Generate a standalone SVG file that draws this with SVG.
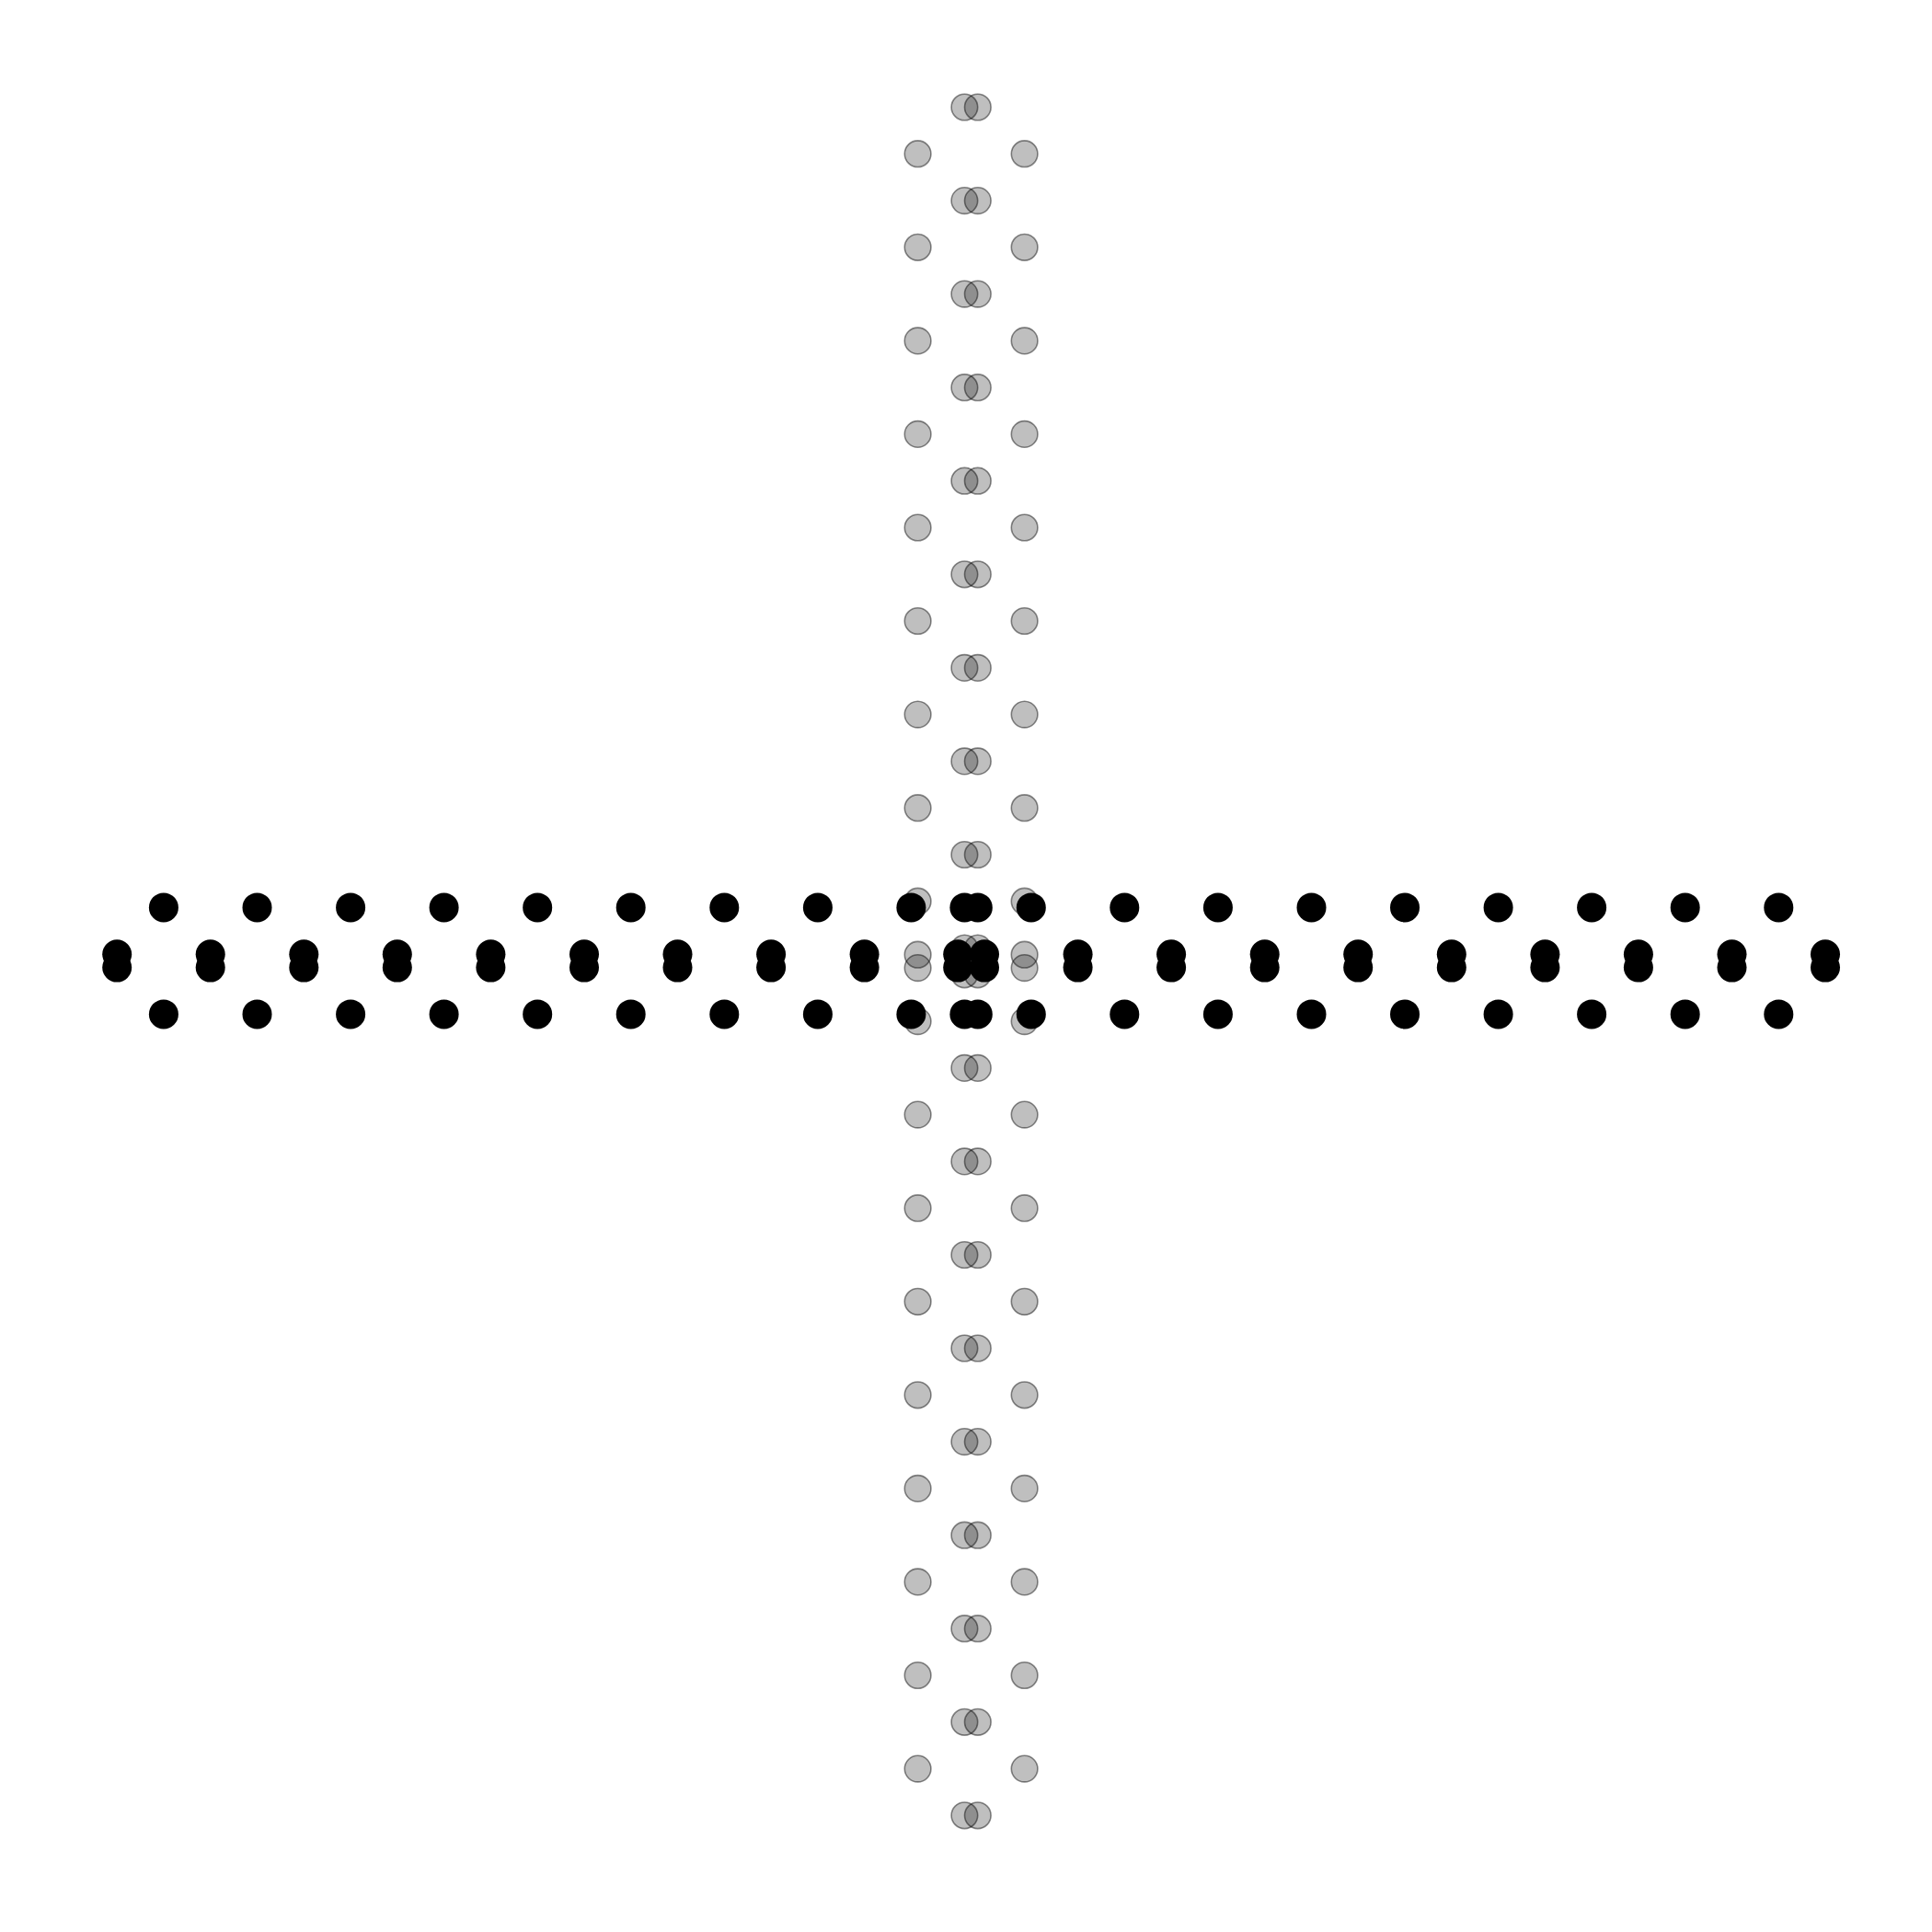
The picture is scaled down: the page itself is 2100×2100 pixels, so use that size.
<svg xmlns="http://www.w3.org/2000/svg" width="2100" height="2100" viewBox="0 0 2100 2100">
<style>
.g{fill:#000;fill-opacity:0.25;stroke:#000;stroke-opacity:0.45;stroke-width:1.6}
.b{fill:#000}
</style>
<rect width="2100" height="2100" fill="#fff"/>
<g id="vertical-strand">
<g id="v-pairs">
<circle class="g" cx="1048.4" cy="116.5" r="14.3"/><circle class="g" cx="1062.8" cy="116.5" r="14.3"/>
<circle class="g" cx="1048.4" cy="218.1" r="14.3"/><circle class="g" cx="1062.8" cy="218.1" r="14.3"/>
<circle class="g" cx="1048.4" cy="319.6" r="14.3"/><circle class="g" cx="1062.8" cy="319.6" r="14.3"/>
<circle class="g" cx="1048.4" cy="421.2" r="14.3"/><circle class="g" cx="1062.8" cy="421.2" r="14.3"/>
<circle class="g" cx="1048.4" cy="522.7" r="14.3"/><circle class="g" cx="1062.8" cy="522.7" r="14.3"/>
<circle class="g" cx="1048.4" cy="624.3" r="14.3"/><circle class="g" cx="1062.8" cy="624.3" r="14.3"/>
<circle class="g" cx="1048.4" cy="725.9" r="14.3"/><circle class="g" cx="1062.8" cy="725.9" r="14.3"/>
<circle class="g" cx="1048.4" cy="827.4" r="14.3"/><circle class="g" cx="1062.8" cy="827.4" r="14.3"/>
<circle class="g" cx="1048.4" cy="929.0" r="14.3"/><circle class="g" cx="1062.8" cy="929.0" r="14.3"/>
<circle class="g" cx="1048.4" cy="1030.5" r="14.3"/><circle class="g" cx="1062.8" cy="1030.5" r="14.3"/>
<circle class="g" cx="1048.4" cy="1059.3" r="14.3"/><circle class="g" cx="1062.8" cy="1059.3" r="14.3"/>
<circle class="g" cx="1048.4" cy="1160.9" r="14.3"/><circle class="g" cx="1062.8" cy="1160.9" r="14.3"/>
<circle class="g" cx="1048.4" cy="1262.4" r="14.3"/><circle class="g" cx="1062.8" cy="1262.4" r="14.3"/>
<circle class="g" cx="1048.4" cy="1364.0" r="14.3"/><circle class="g" cx="1062.8" cy="1364.0" r="14.3"/>
<circle class="g" cx="1048.4" cy="1465.5" r="14.3"/><circle class="g" cx="1062.8" cy="1465.5" r="14.3"/>
<circle class="g" cx="1048.4" cy="1567.1" r="14.3"/><circle class="g" cx="1062.8" cy="1567.1" r="14.3"/>
<circle class="g" cx="1048.4" cy="1668.7" r="14.3"/><circle class="g" cx="1062.8" cy="1668.7" r="14.3"/>
<circle class="g" cx="1048.4" cy="1770.2" r="14.3"/><circle class="g" cx="1062.8" cy="1770.2" r="14.3"/>
<circle class="g" cx="1048.4" cy="1871.8" r="14.3"/><circle class="g" cx="1062.8" cy="1871.8" r="14.3"/>
<circle class="g" cx="1048.4" cy="1973.3" r="14.3"/><circle class="g" cx="1062.8" cy="1973.3" r="14.3"/>
</g>
<g id="v-sides">
<circle class="g" cx="997.6" cy="167.2" r="14.3"/><circle class="g" cx="1113.6" cy="167.2" r="14.3"/>
<circle class="g" cx="997.6" cy="268.8" r="14.3"/><circle class="g" cx="1113.6" cy="268.8" r="14.3"/>
<circle class="g" cx="997.6" cy="370.4" r="14.3"/><circle class="g" cx="1113.6" cy="370.4" r="14.3"/>
<circle class="g" cx="997.6" cy="471.9" r="14.3"/><circle class="g" cx="1113.6" cy="471.9" r="14.3"/>
<circle class="g" cx="997.6" cy="573.5" r="14.3"/><circle class="g" cx="1113.6" cy="573.5" r="14.3"/>
<circle class="g" cx="997.6" cy="675.0" r="14.3"/><circle class="g" cx="1113.6" cy="675.0" r="14.3"/>
<circle class="g" cx="997.6" cy="776.6" r="14.3"/><circle class="g" cx="1113.6" cy="776.6" r="14.3"/>
<circle class="g" cx="997.6" cy="878.2" r="14.3"/><circle class="g" cx="1113.6" cy="878.2" r="14.3"/>
<circle class="g" cx="997.6" cy="979.7" r="14.3"/><circle class="g" cx="1113.6" cy="979.7" r="14.3"/>
<circle class="g" cx="997.6" cy="1037.7" r="14.3"/><circle class="g" cx="1113.6" cy="1037.7" r="14.3"/>
<circle class="g" cx="997.6" cy="1052.1" r="14.3"/><circle class="g" cx="1113.6" cy="1052.1" r="14.3"/>
<circle class="g" cx="997.6" cy="1110.1" r="14.3"/><circle class="g" cx="1113.6" cy="1110.1" r="14.3"/>
<circle class="g" cx="997.6" cy="1211.6" r="14.3"/><circle class="g" cx="1113.6" cy="1211.6" r="14.3"/>
<circle class="g" cx="997.6" cy="1313.2" r="14.3"/><circle class="g" cx="1113.6" cy="1313.2" r="14.3"/>
<circle class="g" cx="997.6" cy="1414.8" r="14.3"/><circle class="g" cx="1113.6" cy="1414.8" r="14.3"/>
<circle class="g" cx="997.6" cy="1516.3" r="14.3"/><circle class="g" cx="1113.6" cy="1516.3" r="14.3"/>
<circle class="g" cx="997.6" cy="1617.9" r="14.3"/><circle class="g" cx="1113.6" cy="1617.9" r="14.3"/>
<circle class="g" cx="997.6" cy="1719.4" r="14.3"/><circle class="g" cx="1113.6" cy="1719.4" r="14.3"/>
<circle class="g" cx="997.6" cy="1821.0" r="14.3"/><circle class="g" cx="1113.6" cy="1821.0" r="14.3"/>
<circle class="g" cx="997.6" cy="1922.6" r="14.3"/><circle class="g" cx="1113.6" cy="1922.6" r="14.3"/>
</g>
</g>
<g id="horizontal-strand">
<g id="h-pairs">
<circle class="b" cx="127.2" cy="1037.2" r="16"/><circle class="b" cx="127.2" cy="1051.6" r="16"/>
<circle class="b" cx="228.7" cy="1037.2" r="16"/><circle class="b" cx="228.7" cy="1051.6" r="16"/>
<circle class="b" cx="330.3" cy="1037.2" r="16"/><circle class="b" cx="330.3" cy="1051.6" r="16"/>
<circle class="b" cx="431.8" cy="1037.2" r="16"/><circle class="b" cx="431.8" cy="1051.6" r="16"/>
<circle class="b" cx="533.4" cy="1037.2" r="16"/><circle class="b" cx="533.4" cy="1051.6" r="16"/>
<circle class="b" cx="635.0" cy="1037.2" r="16"/><circle class="b" cx="635.0" cy="1051.6" r="16"/>
<circle class="b" cx="736.5" cy="1037.2" r="16"/><circle class="b" cx="736.5" cy="1051.6" r="16"/>
<circle class="b" cx="838.1" cy="1037.2" r="16"/><circle class="b" cx="838.1" cy="1051.6" r="16"/>
<circle class="b" cx="939.6" cy="1037.2" r="16"/><circle class="b" cx="939.6" cy="1051.6" r="16"/>
<circle class="b" cx="1041.2" cy="1037.2" r="16"/><circle class="b" cx="1041.2" cy="1051.6" r="16"/>
<circle class="b" cx="1070.0" cy="1037.2" r="16"/><circle class="b" cx="1070.0" cy="1051.6" r="16"/>
<circle class="b" cx="1171.6" cy="1037.2" r="16"/><circle class="b" cx="1171.6" cy="1051.6" r="16"/>
<circle class="b" cx="1273.1" cy="1037.2" r="16"/><circle class="b" cx="1273.1" cy="1051.6" r="16"/>
<circle class="b" cx="1374.7" cy="1037.2" r="16"/><circle class="b" cx="1374.7" cy="1051.6" r="16"/>
<circle class="b" cx="1476.2" cy="1037.2" r="16"/><circle class="b" cx="1476.2" cy="1051.6" r="16"/>
<circle class="b" cx="1577.8" cy="1037.2" r="16"/><circle class="b" cx="1577.8" cy="1051.6" r="16"/>
<circle class="b" cx="1679.4" cy="1037.2" r="16"/><circle class="b" cx="1679.4" cy="1051.6" r="16"/>
<circle class="b" cx="1780.9" cy="1037.2" r="16"/><circle class="b" cx="1780.9" cy="1051.6" r="16"/>
<circle class="b" cx="1882.5" cy="1037.2" r="16"/><circle class="b" cx="1882.5" cy="1051.6" r="16"/>
<circle class="b" cx="1984.0" cy="1037.2" r="16"/><circle class="b" cx="1984.0" cy="1051.6" r="16"/>
</g>
<g id="h-sides">
<circle class="b" cx="177.9" cy="986.4" r="16"/><circle class="b" cx="177.9" cy="1102.4" r="16"/>
<circle class="b" cx="279.5" cy="986.4" r="16"/><circle class="b" cx="279.5" cy="1102.4" r="16"/>
<circle class="b" cx="381.1" cy="986.4" r="16"/><circle class="b" cx="381.1" cy="1102.4" r="16"/>
<circle class="b" cx="482.6" cy="986.4" r="16"/><circle class="b" cx="482.6" cy="1102.4" r="16"/>
<circle class="b" cx="584.2" cy="986.4" r="16"/><circle class="b" cx="584.2" cy="1102.4" r="16"/>
<circle class="b" cx="685.7" cy="986.4" r="16"/><circle class="b" cx="685.7" cy="1102.4" r="16"/>
<circle class="b" cx="787.3" cy="986.4" r="16"/><circle class="b" cx="787.3" cy="1102.4" r="16"/>
<circle class="b" cx="888.9" cy="986.4" r="16"/><circle class="b" cx="888.9" cy="1102.4" r="16"/>
<circle class="b" cx="990.4" cy="986.4" r="16"/><circle class="b" cx="990.4" cy="1102.4" r="16"/>
<circle class="b" cx="1048.4" cy="986.4" r="16"/><circle class="b" cx="1048.4" cy="1102.4" r="16"/>
<circle class="b" cx="1062.8" cy="986.4" r="16"/><circle class="b" cx="1062.8" cy="1102.4" r="16"/>
<circle class="b" cx="1120.8" cy="986.4" r="16"/><circle class="b" cx="1120.8" cy="1102.4" r="16"/>
<circle class="b" cx="1222.3" cy="986.4" r="16"/><circle class="b" cx="1222.3" cy="1102.4" r="16"/>
<circle class="b" cx="1323.9" cy="986.4" r="16"/><circle class="b" cx="1323.9" cy="1102.4" r="16"/>
<circle class="b" cx="1425.5" cy="986.4" r="16"/><circle class="b" cx="1425.5" cy="1102.4" r="16"/>
<circle class="b" cx="1527.0" cy="986.4" r="16"/><circle class="b" cx="1527.0" cy="1102.4" r="16"/>
<circle class="b" cx="1628.6" cy="986.4" r="16"/><circle class="b" cx="1628.6" cy="1102.4" r="16"/>
<circle class="b" cx="1730.1" cy="986.4" r="16"/><circle class="b" cx="1730.1" cy="1102.4" r="16"/>
<circle class="b" cx="1831.7" cy="986.4" r="16"/><circle class="b" cx="1831.7" cy="1102.4" r="16"/>
<circle class="b" cx="1933.3" cy="986.4" r="16"/><circle class="b" cx="1933.3" cy="1102.4" r="16"/>
</g>
</g>
</svg>
